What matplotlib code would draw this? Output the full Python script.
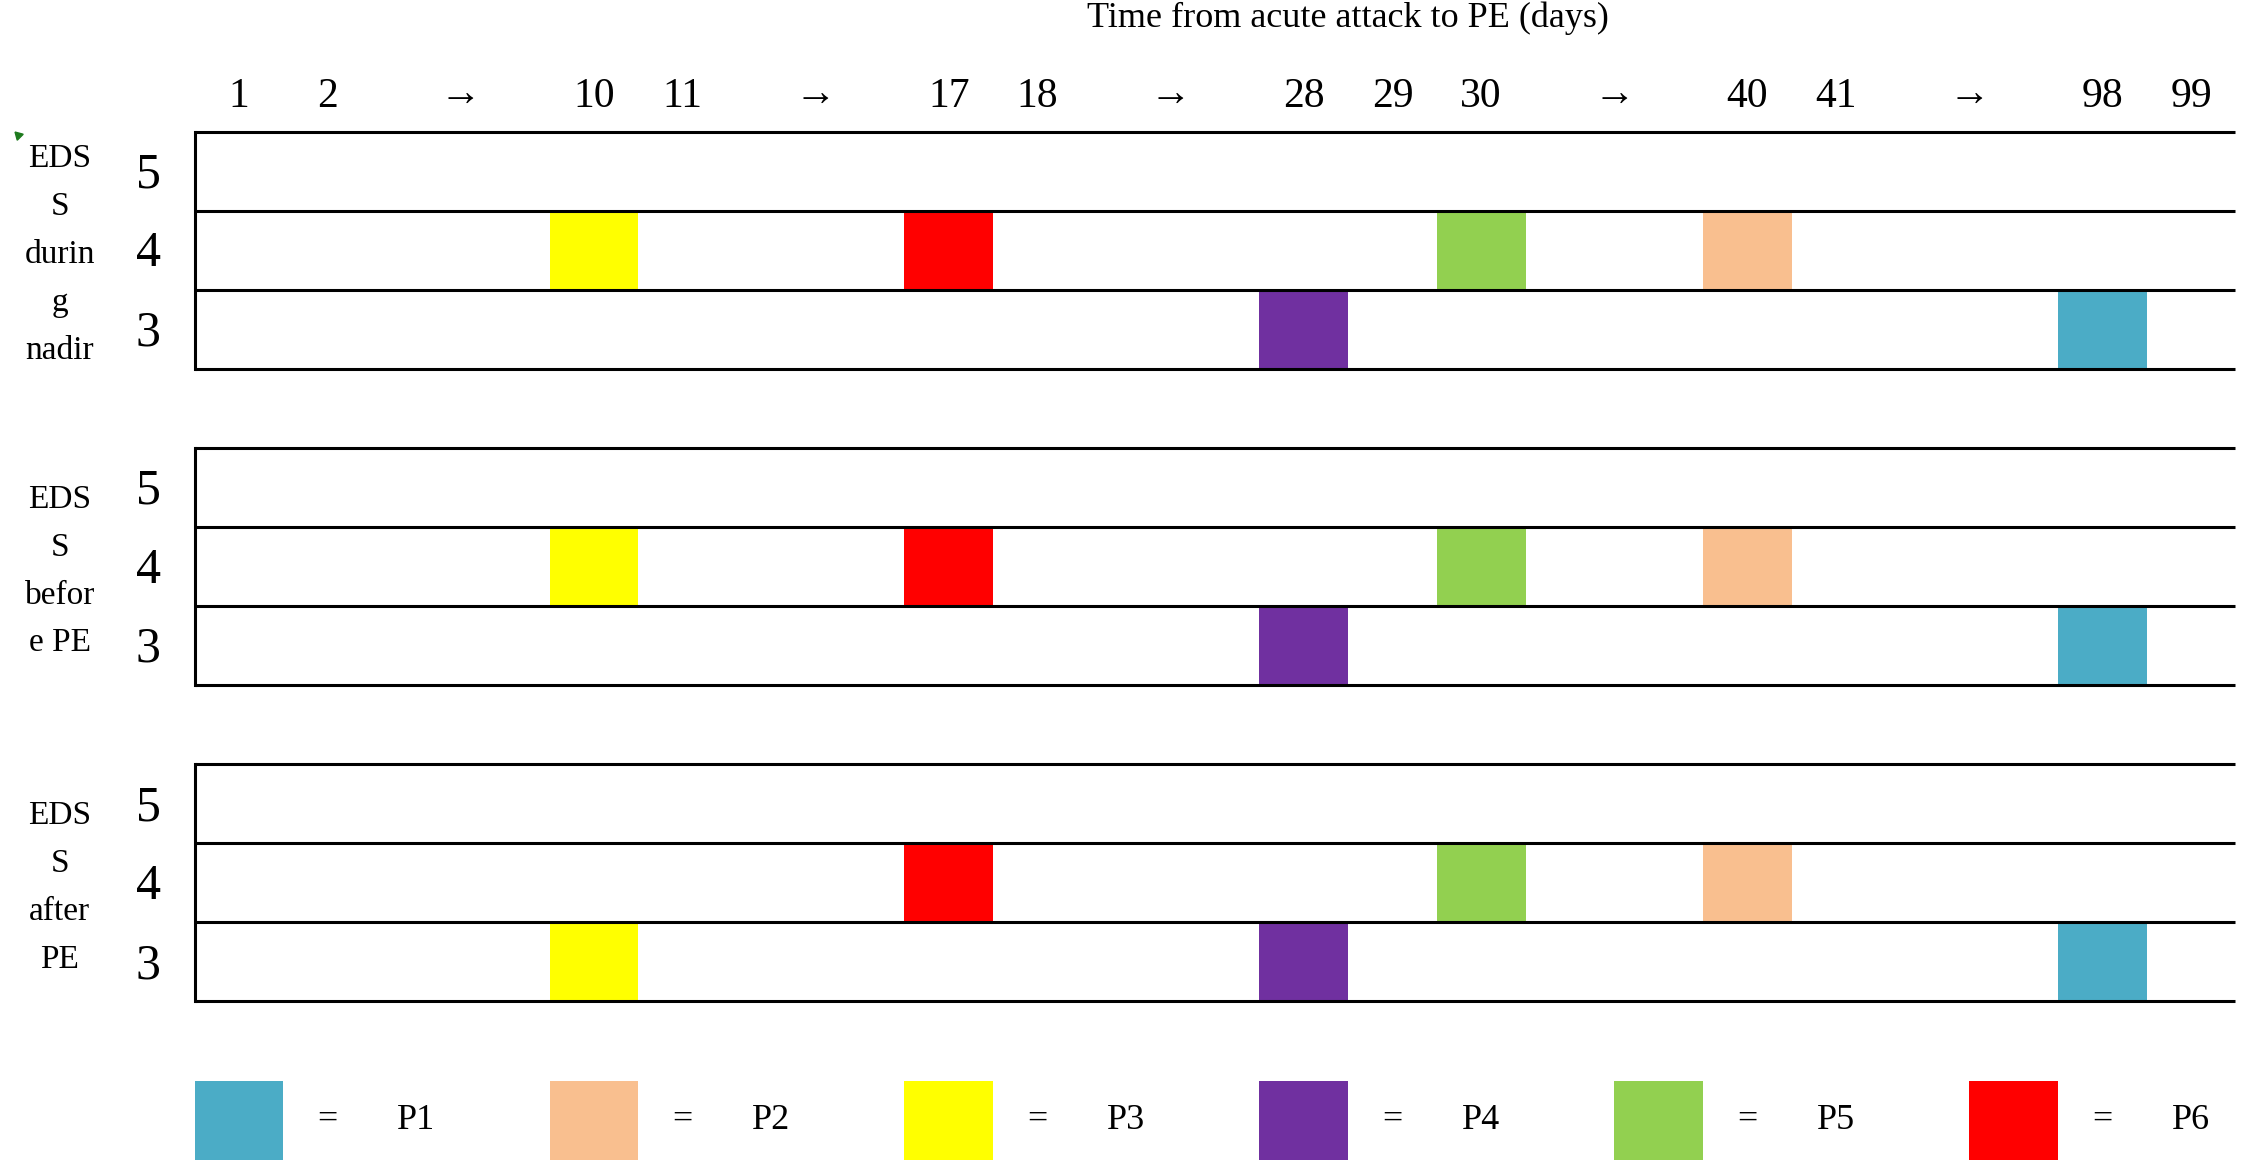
import matplotlib
matplotlib.use("Agg")
import matplotlib.pyplot as plt

plt.rcParams['font.family'] = ['Liberation Serif', 'DejaVu Serif']

# day shown in each column of the grid ("" = skipped days, drawn as an arrow)
columns = ["1", "2", "", "", "10", "11", "", "", "17", "18", "", "", "28", "29", "30",
           "", "", "40", "41", "", "", "98", "99"]
edss_levels = [5, 4, 3]

patients = ["P1", "P2", "P3", "P4", "P5", "P6"]
patient_colors = ["#4BACC6", "#F9BF8F", "#FFFF00", "#7030A0", "#92D050", "#FF0000"]
days_to_pe = [98, 40, 10, 28, 30, 17]

panel_labels = ["EDS\nS\ndurin\ng\nnadir", "EDS\nS\nbefor\ne PE", "EDS\nS\nafter\nPE"]
edss_nadir = [3, 4, 4, 3, 4, 4]
edss_before_pe = [3, 4, 4, 3, 4, 4]
edss_after_pe = [3, 4, 3, 3, 4, 4]
panel_edss = [edss_nadir, edss_before_pe, edss_after_pe]

title = "Time from acute attack to PE (days)"

fig = plt.figure(figsize=(22.44, 11.70), dpi=100)
ax = fig.add_axes([0, 0, 1, 1])
ax.set_xlim(-2.193, 23.097)
ax.set_ylim(-13.131, 1.665)
ax.axis('off')

ncol = len(columns)
nrow = len(edss_levels)

# column headers
for i, lab in enumerate(columns):
    if lab:
        ax.text(i + 0.5, 0.44, lab, ha='center', va='center', fontsize=30)
i = 0
while i < ncol:
    if columns[i] == "":
        j = i
        while j < ncol and columns[j] == "":
            j += 1
        ax.text((i + j) / 2, 0.47, "\u2192", ha='center', va='center', fontsize=30)
        i = j
    else:
        i += 1

ax.text(13.0, 1.44, title, ha='center', va='center', fontsize=26)

# panels
for p, (plabel, edss) in enumerate(zip(panel_labels, panel_edss)):
    top = -4 * p
    for r, lev in enumerate(edss_levels):
        ax.text(-0.52, top - r - 0.55, str(lev), ha='center', va='center', fontsize=36)
    ax.text(-1.52, top - 1.56, plabel, ha='center', va='center', fontsize=24,
            linespacing=1.74)
    for name, col, day, e in zip(patients, patient_colors, days_to_pe, edss):
        x = columns.index(str(day))
        r = edss_levels.index(e)
        ax.bar(x, 1, width=1, bottom=top - r - 1, align='edge', color=col,
               edgecolor='none', zorder=2)
    for r in range(nrow + 1):
        ax.plot([0, ncol], [top - r, top - r], color='black', lw=2.2, zorder=3,
                solid_capstyle='butt')
    ax.plot([0, 0], [top, top - nrow], color='black', lw=2.2, zorder=3)

# small green comment marker in the corner of the first label cell
ax.plot(-1.99, -0.04, marker=(3, 0, 45), color='#1E7B1E', markersize=7)

# key
for k, (name, col) in enumerate(zip(patients, patient_colors)):
    ax.bar(4 * k, 1, width=1, bottom=-13, align='edge', color=col, edgecolor='none')
    ax.text(4 * k + 1.5, -12.5, "=", ha='center', va='center', fontsize=26)
    ax.text(4 * k + 2.5, -12.5, name, ha='center', va='center', fontsize=26)

fig.savefig("out.png", dpi=100, facecolor='white')
